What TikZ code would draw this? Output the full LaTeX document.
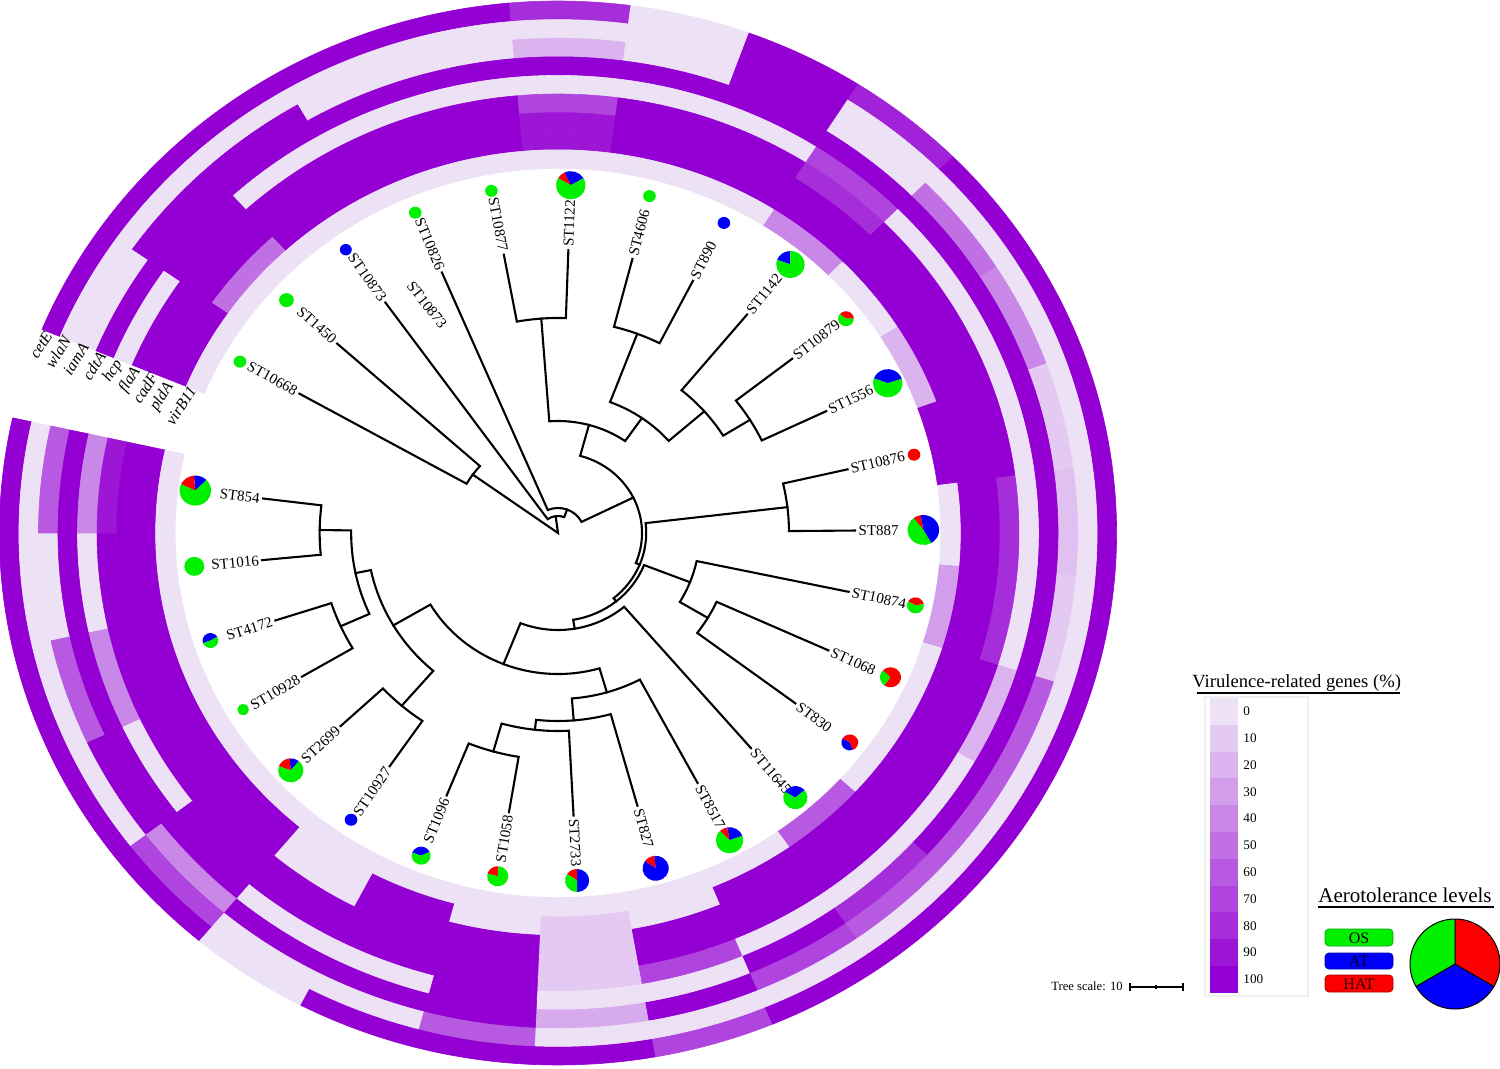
\documentclass[tikz,border=0pt]{standalone}
\usepackage{fontspec}
\setmainfont{Liberation Serif}
\definecolor{hi}{RGB}{148,0,211}
\definecolor{lo}{RGB}{237,225,246}
\definecolor{osg}{RGB}{0,240,0}
\definecolor{atb}{RGB}{0,0,250}
\definecolor{hatr}{RGB}{250,0,0}
\newcommand{\clade}[5]{\draw[branch] (#2:#3) -- (#2:#1) arc[start angle=#2,end angle=#4,radius=#1] -- (#4:#5);}
\begin{document}
\begin{tikzpicture}[x=0.5pt,y=-0.5pt,
  branch/.style={line width=1.05pt,line cap=rect,line join=miter},
  stlab/.style={font=\fontsize{7.5}{9}\selectfont,inner sep=0.5pt},
  genelab/.style={font=\fontsize{8}{9}\selectfont\itshape,inner sep=0pt,rotate=57},
  legnum/.style={font=\fontsize{6.6}{8}\selectfont,anchor=west,inner sep=0pt},
  keybox/.style={rounded corners=2pt,line width=0.4pt}]
\useasboundingbox (0,0) rectangle (1500,1069);
\fill[white] (0,0) rectangle (1500,1069);

\begin{scope}[shift={(558,533)},xscale=1.05,yscale=-1]
% ---------- heatmap rings (outer = cetE ... inner = virB11)
\foreach \i/\vals in {
 0/{100,0,0,100,0,100,100,100,0},
 1/{100,0,100,100,100,100,100,50,0},
 2/{100,0,100,100,0,100,100,100,0},
 3/{100,0,0,100,0,100,100,100,0},
 4/{100,0,0,100,0,100,100,100,0},
 5/{80,0,20,100,0,70,90,90,0},
 6/{0,0,0,100,0,100,100,100,0},
 7/{100,100,100,100,0,100,100,100,0},
 8/{85,0,0,100,70,80,100,100,40},
 9/{100,0,50,100,0,100,100,100,0},
 10/{100,0,40,100,0,100,100,100,20},
 11/{100,0,10,100,0,100,100,100,100},
 12/{100,0,15,100,0,80,100,100,0},
 13/{100,0,10,100,0,80,100,100,30},
 14/{100,0,60,100,20,100,100,100,0},
 15/{100,0,60,100,0,100,100,100,0},
 16/{100,0,60,80,0,100,100,100,60},
 17/{100,0,70,100,0,100,100,100,0},
 18/{70,0,100,0,70,100,100,0,0},
 19/{100,0,25,0,10,10,10,10,0},
 20/{100,60,100,100,100,100,100,0,0},
 21/{100,0,100,0,100,100,100,100,0},
 22/{0,0,100,0,100,100,0,0,0},
 23/{100,70,40,100,100,100,100,100,0},
 24/{100,0,100,100,0,100,100,100,0},
 25/{100,0,60,100,40,100,100,100,0},
 26/{100,0,0,100,0,100,100,100,0},
 27/{100,0,60,100,40,90,100,100,0}}{
  \pgfmathsetmacro{\aS}{157.5-12.5*\i}
  \pgfmathsetmacro{\aE}{145-12.5*\i}
  \foreach \val [count=\kk] in \vals {
    \pgfmathsetmacro{\ro}{532-18.6*(\kk-1)}
    \pgfmathsetmacro{\ri}{532-18.6*\kk}
    \fill[hi!\val!lo,draw=hi!\val!lo,line width=0.3pt] (\aS:\ri) arc[start angle=\aS,end angle=\aE,radius=\ri] -- (\aE:\ro) arc[start angle=\aE,end angle=\aS,radius=\ro] -- cycle;
  }
}

% ---------- tree
\clade{215}{100.5}{283}{88}{283}
\clade{213}{75.5}{283}{63}{283}
\clade{215}{38}{283}{25.5}{283}
\clade{185}{50.5}{283}{31.75}{215}
\clade{140}{69.25}{213}{41.125}{185}
\clade{112}{94.25}{215}{55.1875}{140}
\clade{220}{13}{283}{0.5}{283}
\clade{166}{-24.5}{283}{-37}{283}
\clade{135}{-12}{283}{-30.75}{166}
\clade{227}{-112}{283}{-99.5}{283}
\clade{198}{-105.75}{227}{-87}{283}
\clade{188}{-96.375}{198}{-74.5}{283}
\clade{166}{-85.4375}{188}{-62}{283}
\clade{228}{-124.5}{283}{-137}{283}
\clade{227}{-149.5}{283}{-162}{283}
\clade{227}{-174.5}{283}{-187}{283}
\clade{197}{-155.75}{227}{-180.75}{227}
\clade{182}{-130.75}{228}{-168.25}{197}
\clade{141}{-73.72}{166}{-149.5}{182}
\clade{97}{-111.61}{141}{-49.5}{283}
\clade{88}{-80.555}{97}{-21.375}{135}
\clade{84}{6.75}{220}{-50.965}{88}
\clade{80}{74.72}{112}{-22.1075}{84}
\clade{25}{113}{283}{26.306}{80}
\clade{17}{125.5}{283}{69.653}{25}
\clade{100}{150.5}{283}{138}{283}
\coordinate (root) at (0,0);
\draw[branch] (144.25:100) -- (root) -- (97.58:17);

% ---------- leaf labels
\foreach \th/\nm in {88/ST1122,75.5/ST4606,63/ST890,50.5/ST1142,38/ST10879,25.5/ST1556,13/ST10876,0.5/ST887,-12/ST10874,-24.5/ST1068,-37/ST830,-49.5/ST11645,-62/ST8517,-74.5/ST827,-87/ST2733}{
  \node[stlab,anchor=west,rotate=\th] (lab\nm) at (\th:285) {\nm};
}
\foreach \th/\nm in {150.5/ST10668,138/ST1450,125.5/ST10873,113/ST10826,100.5/ST10877,-99.5/ST1058,-112/ST1096,-124.5/ST10927,-137/ST2699,-149.5/ST10928,-162/ST4172,-174.5/ST1016,-187/ST854}{
  \pgfmathsetmacro{\rot}{\th+180}
  \node[stlab,anchor=east,rotate=\rot] (lab\nm) at (\th:285) {\nm};
}

% ---------- aerotolerance pies
\foreach \th/\rr/\cl/\sa/\se in {
 150.5/6/osg/0/360, 138/7/osg/0/360, 125.5/5.7/atb/0/360, 113/6/osg/0/360, 100.5/6/osg/0/360,
 88/14/atb/30/115, 88/14/hatr/115/150, 88/14/osg/150/390,
 75.5/6/osg/0/360, 63/6/atb/0/360,
 50.5/13.5/atb/90/160, 50.5/13.5/osg/160/450,
 38/7.5/hatr/0/140, 38/7.5/osg/140/360,
 25.5/14/atb/18/160, 25.5/14/osg/160/378,
 13/6/hatr/0/360,
 0.5/15/atb/-60/100, 0.5/15/hatr/100/128, 0.5/15/osg/128/300,
 -12/8/hatr/10/150, -12/8/osg/150/370,
 -24.5/10/osg/135/235, -24.5/10/hatr/235/495,
 -37/8/atb/150/290, -37/8/hatr/290/510,
 -49.5/11.5/atb/40/150, -49.5/11.5/osg/150/400,
 -62/13/atb/20/100, -62/13/hatr/100/135, -62/13/osg/135/380,
 -74.5/12.5/hatr/95/145, -74.5/12.5/atb/145/455,
 -87/11.5/atb/-90/90, -87/11.5/hatr/90/145, -87/11.5/osg/145/270,
 -99.5/10/hatr/85/165, -99.5/10/osg/165/445,
 -112/9/atb/25/160, -112/9/osg/160/385,
 -124.5/6/atb/0/360,
 -137/12/atb/50/95, -137/12/hatr/95/160, -137/12/osg/160/410,
 -149.5/5.5/osg/0/360,
 -162/7.5/atb/30/200, -162/7.5/osg/200/390,
 -174.5/9.5/osg/0/360,
 -187/15/atb/45/95, -187/15/hatr/95/155, -187/15/osg/155/405}{
  \fill[\cl] (\th:348) -- ++(\sa:\rr) arc[start angle=\sa,end angle=\se,radius=\rr] -- cycle;
}
\end{scope}

% orphan label
\node[stlab,rotate=-52] (labextra) at (427,305) {ST10873};

% gene labels in the gap
\node[genelab] (g1) at (41,345) {cetE};
\node[genelab] (g2) at (58,352) {wlaN};
\node[genelab] (g3) at (76,359) {iamA};
\node[genelab] (g4) at (94,366) {cdtA};
\node[genelab] (g5) at (113,371) {hcp};
\node[genelab] (g6) at (130,380) {flaA};
\node[genelab] (g7) at (145,388) {cadF};
\node[genelab] (g8) at (162,397) {pldA};
\node[genelab] (g9) at (181,406) {virB11};

% ---------- legend: virulence scale
\node[anchor=base west,inner sep=0pt,font=\fontsize{9.3}{11}\selectfont] (vtitle) at (1192,687) {Virulence-related genes (\%)};
\draw[line width=1.2pt] (1197,693) -- (1400,693);
\draw[black!6,line width=0.6pt] (1205,697) rectangle (1308,996);
\foreach \j in {0,...,10}{
  \pgfmathsetmacro{\yy}{698+26.8*\j}
  \pgfmathtruncatemacro{\vv}{10*\j}
  \fill[hi!\vv!lo] (1210,\yy) rectangle (1238,{\yy+26.9});
  \node[legnum] (num\j) at (1243,{\yy+13.4}) {\vv};
}

% ---------- legend: aerotolerance
\node[anchor=base west,inner sep=0pt,font=\fontsize{10.5}{12}\selectfont] (atitle) at (1318,902) {Aerotolerance levels};
\draw[line width=1.2pt] (1318,907) -- (1494,907);
\draw[keybox,fill=osg,draw=osg!70!black] (1325,929) rectangle (1393,946);
\node[font=\fontsize{8}{9}\selectfont,inner sep=0pt] (kos) at (1359,938) {OS};
\draw[keybox,fill=atb,draw=atb!70!black] (1325,953) rectangle (1393,969);
\node[font=\fontsize{8}{9}\selectfont,inner sep=0pt,text=black!85!blue] (kat) at (1359,961.5) {AT};
\draw[keybox,fill=hatr,draw=hatr!70!black] (1325,975) rectangle (1393,992);
\node[font=\fontsize{8}{9}\selectfont,inner sep=0pt,text=black!80!red] (khat) at (1359,984) {HAT};
\begin{scope}[shift={(1455,964)},yscale=-1]
\coordinate (lpie) at (0,0);
\fill[osg] (lpie) -- (90:45) arc[start angle=90,end angle=210,radius=45] -- cycle;
\fill[atb] (lpie) -- (210:45) arc[start angle=210,end angle=330,radius=45] -- cycle;
\fill[hatr] (lpie) -- (330:45) arc[start angle=330,end angle=450,radius=45] -- cycle;
\draw[line width=0.5pt] (lpie) circle[radius=45];
\draw[line width=0.5pt] (90:45) -- (lpie) -- (210:45) (lpie) -- (330:45);
\end{scope}

% ---------- tree scale
\node[anchor=base east,inner sep=0pt,font=\fontsize{6.3}{7}\selectfont] (tscale) at (1123,990) {Tree scale: 10};
\coordinate (sb1) at (1130,987);
\coordinate (sb2) at (1183,987);
\draw[line width=1pt] (sb1) -- (sb2);
\draw[line width=1pt] (1130,983) -- (1130,991) (1183,983) -- (1183,991);
\draw[line width=0.6pt] (1156,985) -- (1156,989);
\end{tikzpicture}
\end{document}
